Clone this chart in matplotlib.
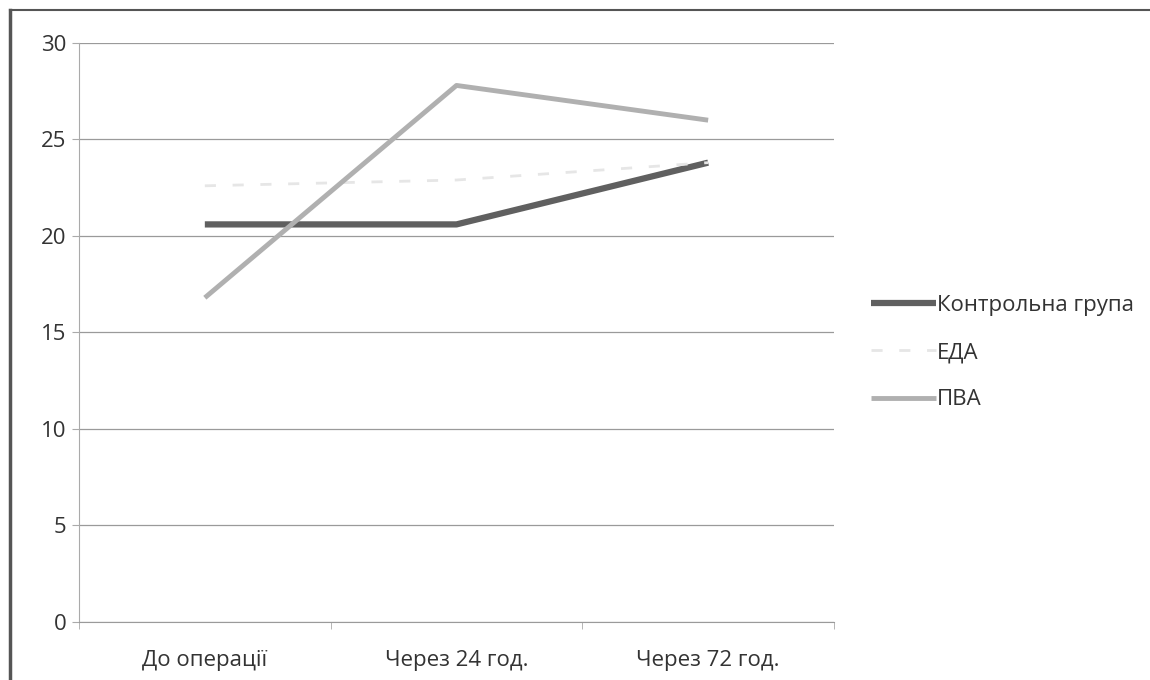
import matplotlib.pyplot as plt
import numpy as np

plt.rcParams['font.family'] = ['Open Sans', 'DejaVu Sans']

categories = ["До операції", "Через 24 год.", "Через 72 год."]
control = [20.6, 20.6, 23.8]
eda = [22.6, 22.9, 23.8]
pva = [16.8, 27.8, 26.0]

fig = plt.figure(figsize=(11.5, 6.8), dpi=100)
ax = fig.add_axes([0.0687, 0.0853, 0.6565, 0.8515])

x = np.arange(len(categories))
ax.plot(x, control, color='#606060', lw=4.5, solid_capstyle='butt', label="Контрольна група", zorder=3)
ax.plot(x, eda, color='#e6e6e6', lw=2, ls=(0, (4, 6)), label="ЕДА", zorder=3)
ax.plot(x, pva, color='#b0b0b0', lw=3.5, solid_capstyle='butt', label="ПВА", zorder=3)

ax.set_xlim(-0.5, 2.5)
ax.set_ylim(0, 30)
ax.set_yticks(range(0, 31, 5))
ax.set_xticks(x)
ax.set_xticklabels(categories)
ax.set_xticks([-0.5, 0.5, 1.5, 2.5], minor=True)
ax.tick_params(axis='x', which='major', length=0, pad=20, labelsize=16, colors='#333333')
ax.tick_params(axis='x', which='minor', length=5, color='#aaaaaa', direction='out')
ax.tick_params(axis='y', length=5, color='#aaaaaa', pad=4, labelsize=16, colors='#333333')
ax.grid(axis='y', color='#9a9a9a', lw=0.9)
for s in ['top', 'right']:
    ax.spines[s].set_visible(False)
ax.spines['left'].set_color('#aaaaaa')
ax.spines['bottom'].set_color('#9a9a9a')

leg = ax.legend(loc='center left', bbox_to_anchor=(1.023, 0.465), frameon=False,
                fontsize=16, handlelength=2.9, handletextpad=0.05, labelspacing=1.18)
for t in leg.get_texts():
    t.set_color('#333333')

# chart border
fig.add_artist(plt.Line2D([0.009, 0.009], [0, 0.986], color='#555555', lw=2.5))
fig.add_artist(plt.Line2D([0.009, 1], [0.986, 0.986], color='#555555', lw=1.5))

fig.savefig("out.png", dpi=100)
